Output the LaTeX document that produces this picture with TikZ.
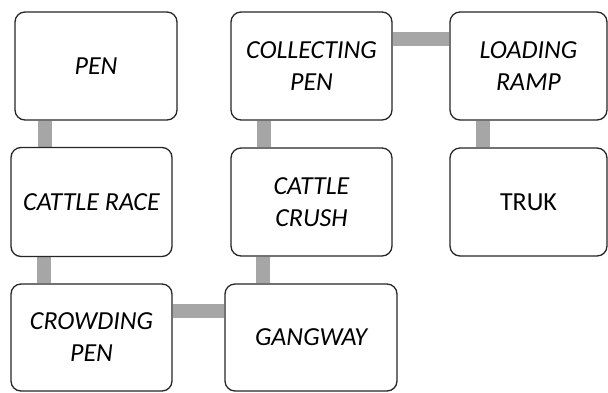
\documentclass[tikz,border=0pt]{standalone}
\usepackage{fontspec}
\setmainfont{Carlito}
\usetikzlibrary{backgrounds}
\begin{document}
\begin{tikzpicture}[x=1pt,y=-1pt,
  box/.style={draw=black!85,line width=1.3pt,rounded corners=10pt,fill=white,
    inner sep=0pt,align=center,
    font=\fontsize{26}{32}\selectfont\itshape},
  conn/.style={draw=black!35,line width=14pt}]
\useasboundingbox (0,0) rectangle (608,392);
\node[box,minimum width=162,minimum height=108] (pen) at (96,66) {PEN};
\node[box,minimum width=161,minimum height=109] (race) at (91.5,202) {CATTLE RACE};
\node[box,minimum width=161,minimum height=107] (crowd) at (91.5,337.5) {CROWDING\\PEN};
\node[box,minimum width=172,minimum height=107] (gang) at (311,337.5) {GANGWAY};
\node[box,minimum width=161,minimum height=108] (coll) at (311.5,66) {COLLECTING\\PEN};
\node[box,minimum width=161,minimum height=108] (crush) at (311.5,202) {CATTLE\\CRUSH};
\node[box,minimum width=157,minimum height=108] (load) at (528.5,66) {LOADING\\RAMP};
\node[box,minimum width=157,minimum height=108,font=\fontsize{26}{32}\selectfont] (truk) at (528.5,202) {TRUK};
\begin{scope}[on background layer]
\draw[conn] (pen.south -| 45,0) -- (race.north -| 45,0);
\draw[conn] (race.south -| 44,0) -- (crowd.north -| 44,0);
\draw[conn] (crowd.east |- 0,311) -- (gang.west |- 0,311);
\draw[conn] (gang.north -| 263,0) -- (crush.south -| 263,0);
\draw[conn] (crush.north -| 264,0) -- (coll.south -| 264,0);
\draw[conn] (coll.east |- 0,38.5) -- (load.west |- 0,38.5);
\draw[conn] (load.south -| 483,0) -- (truk.north -| 483,0);
\end{scope}
\end{tikzpicture}
\end{document}
